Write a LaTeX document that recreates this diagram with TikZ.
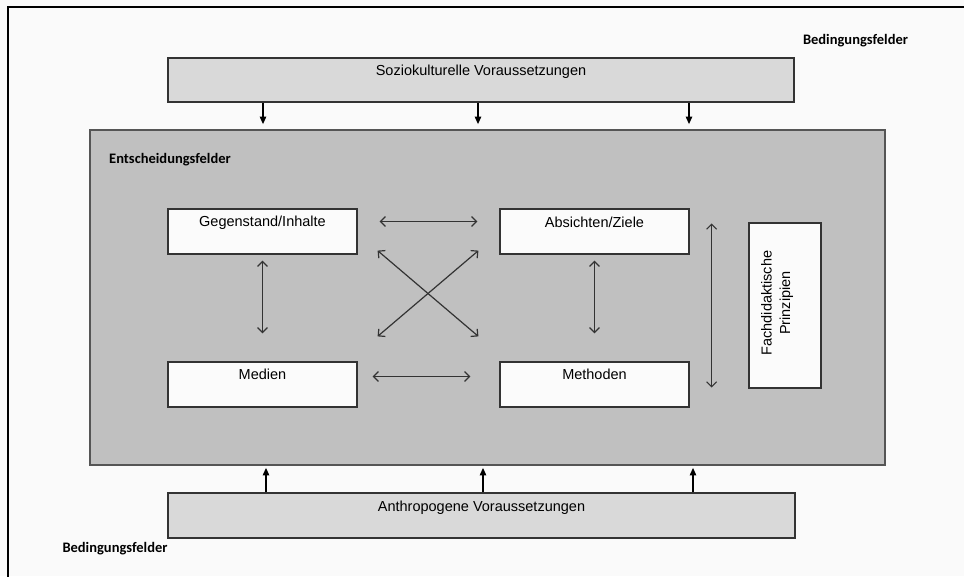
\documentclass[tikz,border=0pt]{standalone}
\usepackage{fontspec}
\setmainfont{Liberation Sans}
\newfontfamily\labelfont{Carlito}
\usetikzlibrary{arrows.meta}

\definecolor{paper}{HTML}{FAFAFA}
\definecolor{condfill}{HTML}{D9D9D9}
\definecolor{decfill}{HTML}{C0C0C0}
\definecolor{boxfill}{HTML}{FBFBFB}
\definecolor{edge}{HTML}{333333}
\definecolor{mainedge}{HTML}{555555}

\tikzset{
  every node/.style={font=\fontsize{14.5}{17}\selectfont},
  condbox/.style={draw=edge, line width=1.2pt, fill=condfill, inner sep=0pt},
  decbox/.style={draw=mainedge, line width=1.8pt, fill=decfill, inner sep=0pt},
  fieldbox/.style={draw=edge, line width=1.2pt, fill=boxfill, inner sep=0pt,
                   minimum width=189pt, minimum height=45pt},
  heading/.style={font=\labelfont\bfseries\fontsize{14.5}{17}\selectfont, inner sep=0pt},
  influence/.style={draw=black, line width=1.1pt, -{Triangle[width=6.5pt,length=7.5pt]}},
  relation/.style={draw=edge, line width=1.2pt,
                   {Straight Barb[length=5pt,width=10pt]}-{Straight Barb[length=5pt,width=10pt]}},
}

\begin{document}
\begin{tikzpicture}[x=1pt, y=-1pt]
  \path[use as bounding box, clip] (0,0) rectangle (964,576);
  \fill[paper] (0,0) rectangle (964,576);
  % frame: only its left and top sides lie on the page
  \draw[black, line width=2pt] (8,600) -- (8,7) -- (990,7);

  % conditioning fields
  \node[condbox, minimum width=626pt, minimum height=44pt,
        label={[anchor=center, yshift=-14pt]north:Soziokulturelle Voraussetzungen}]
        (top) at (481,80) {};
  \node[condbox, minimum width=627pt, minimum height=45pt,
        label={[anchor=center, yshift=-15pt]north:Anthropogene Voraussetzungen}]
        (bottom) at (481.5,515.5) {};
  \node[heading] (condtop) at (855.5,41) {Bedingungsfelder};
  \node[heading] (condbot) at (115,549) {Bedingungsfelder};

  % decision fields
  \node[decbox, minimum width=795pt, minimum height=335pt] (main) at (487.5,297.5) {};
  \node[heading] (dectitle) at (170,160) {Entscheidungsfelder};

  \node[fieldbox, label={[anchor=center, yshift=-14pt]north:Gegenstand/Inhalte}]
        (gi) at (262.5,231.5) {};
  \node[fieldbox, label={[anchor=center, yshift=-14pt]north:Absichten/Ziele}]
        (az) at (594.5,231.5) {};
  \node[fieldbox, label={[anchor=center, yshift=-13pt]north:Medien}]
        (med) at (262.5,384.5) {};
  \node[fieldbox, label={[anchor=center, yshift=-13pt]north:Methoden}]
        (mt) at (594.5,384.5) {};

  \node[draw=edge, line width=1.2pt, fill=boxfill, inner sep=0pt,
        minimum width=72pt, minimum height=165pt] (fp) at (785,305.5) {};
  \node[rotate=90, align=center, inner sep=0pt, font=\fontsize{14.5}{18.5}\selectfont]
        (fptext) at (777,303) {Fachdidaktische\\Prinzipien};

  % influences from the conditioning fields
  \foreach \x in {263,478,689}
    \draw[influence, shorten >=5pt] (\x,0 |- top.south) -- (\x,0 |- main.north);
  \foreach \x in {266,483,693}
    \draw[influence, shorten >=2pt] (\x,0 |- bottom.north) -- (\x,0 |- main.south);

  % relations between the decision fields
  \draw[relation] ([shift={(22,-10)}]gi.east) -- ([shift={(-22,-10)}]az.west);
  \draw[relation] ([shift={(15,-8)}]med.east) -- ([shift={(-29,-8)}]mt.west);
  \draw[relation] ([shift={(0,6)}]gi.south) -- ([shift={(0,-28)}]med.north);
  \draw[relation] ([shift={(0,6)}]az.south) -- ([shift={(0,-28)}]mt.north);
  \draw[relation] ([shift={(20,-4)}]gi.south east) -- ([shift={(-21,-25)}]mt.north west);
  \draw[relation] ([shift={(-21,-4)}]az.south west) -- ([shift={(20,-25)}]med.north east);
  \draw[relation] ([shift={(22,15)}]az.north east) -- ([shift={(22,-20)}]mt.south east);
\end{tikzpicture}
\end{document}
